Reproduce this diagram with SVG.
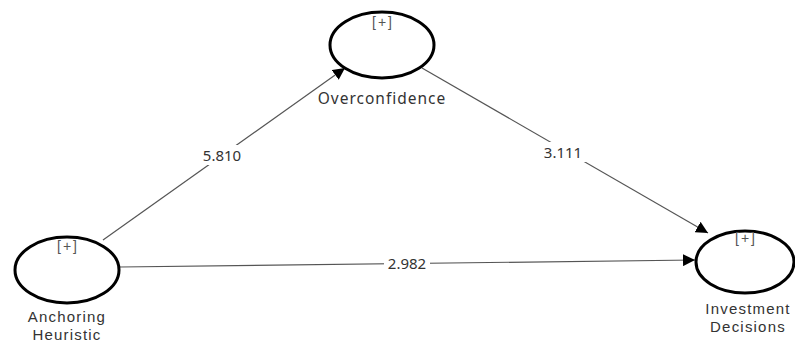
<svg xmlns="http://www.w3.org/2000/svg" width="795" height="344" viewBox="0 0 795 344">
<defs>
<style>
.node{fill:#fff;stroke:#000;stroke-width:3}
.edge{stroke:#555;stroke-width:1.2;fill:none;marker-end:url(#arr)}
.lbl{font-family:"Noto Sans","Open Sans",sans-serif;font-size:15.5px;letter-spacing:1px;fill:#333;text-anchor:middle}
.lbl2{font-family:"Liberation Sans",Arial,sans-serif;font-size:15px;letter-spacing:1.2px;fill:#333;text-anchor:middle}
.plus{font-family:"Liberation Sans",Arial,sans-serif;font-size:14px;letter-spacing:2px;fill:#555;text-anchor:middle}
.elbl{font-family:"Noto Sans","Open Sans",sans-serif;font-size:15px;fill:#333;text-anchor:middle}
.bg{fill:#fff}
</style>
<marker id="arr" viewBox="0 0 10 10" refX="10" refY="5" markerWidth="12" markerHeight="12" markerUnits="userSpaceOnUse" orient="auto">
<path d="M0,0 L10,5 L0,10 z" fill="#000"/>
</marker>
</defs>
<rect width="795" height="344" fill="#fff"/>
<g id="connectors">
<line class="edge" x1="103" y1="240" x2="345" y2="68"/>
<line class="edge" x1="422" y1="68" x2="708" y2="233"/>
<line class="edge" x1="120" y1="267" x2="695" y2="260"/>
<rect class="bg" x="199" y="145" width="46" height="20"/>
<text class="elbl" x="222" y="161">5.810</text>
<rect class="bg" x="540" y="142" width="46" height="20"/>
<text class="elbl" x="563" y="158">3.111</text>
<rect class="bg" x="384" y="254" width="46" height="18"/>
<text class="elbl" x="407" y="269">2.982</text>
</g>
<g id="overconfidence">
<ellipse class="node" cx="382" cy="45" rx="52" ry="33"/>
<text class="plus" x="383" y="27">[+]</text>
<text class="lbl" x="382" y="104">Overconfidence</text>
</g>
<g id="anchoring">
<ellipse class="node" cx="67" cy="270" rx="52" ry="33"/>
<text class="plus" x="68" y="251">[+]</text>
<text class="lbl2" x="67" y="322">Anchoring</text>
<text class="lbl2" x="67" y="340">Heuristic</text>
</g>
<g id="investment">
<ellipse class="node" cx="745" cy="262" rx="49" ry="31"/>
<text class="plus" x="746" y="243">[+]</text>
<text class="lbl2" x="748" y="314">Investment</text>
<text class="lbl2" x="748" y="332">Decisions</text>
</g>
</svg>
